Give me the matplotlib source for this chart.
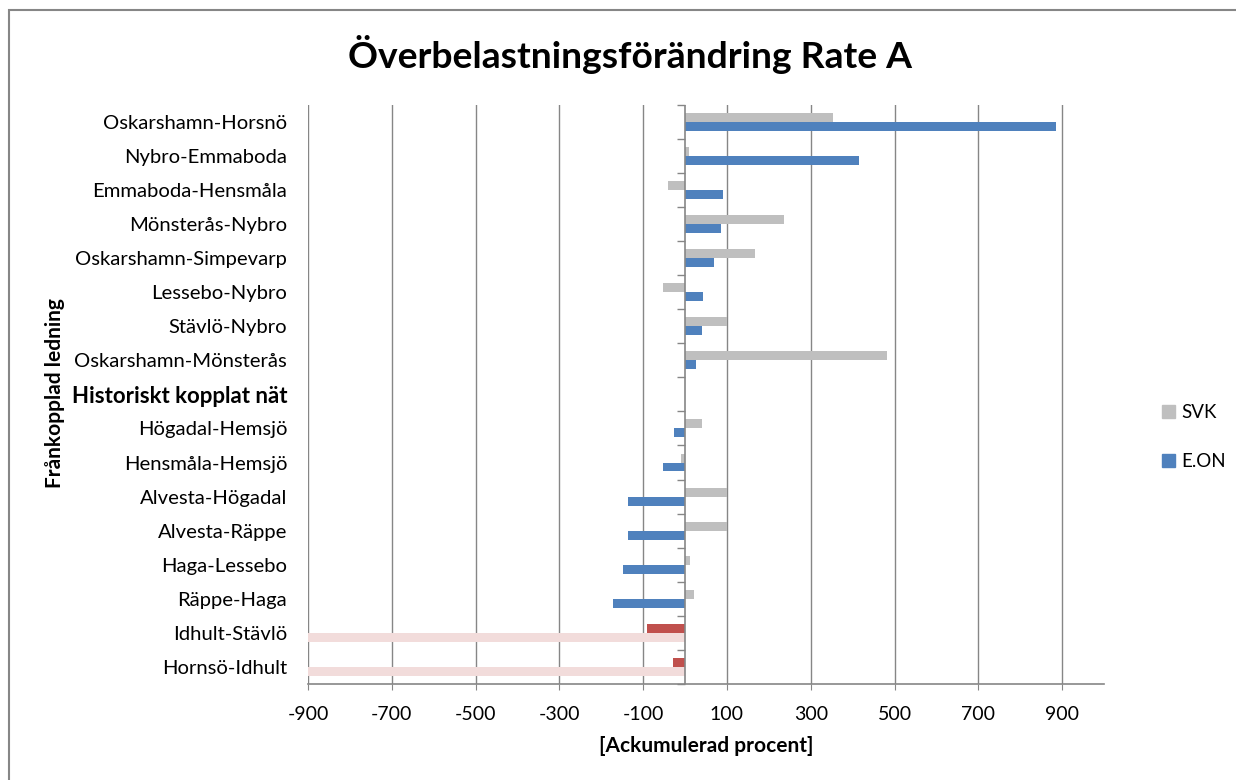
import numpy as np
import matplotlib.pyplot as plt
from matplotlib.patches import Rectangle, Patch

plt.rcParams['font.family'] = ['Lato', 'DejaVu Sans']

ledningar = [
    "Oskarshamn-Horsnö", "Nybro-Emmaboda", "Emmaboda-Hensmåla", "Mönsterås-Nybro",
    "Oskarshamn-Simpevarp", "Lessebo-Nybro", "Stävlö-Nybro", "Oskarshamn-Mönsterås",
    "Historiskt kopplat nät", "Högadal-Hemsjö", "Hensmåla-Hemsjö", "Alvesta-Högadal",
    "Alvesta-Räppe", "Haga-Lessebo", "Räppe-Haga", "Idhult-Stävlö", "Hornsö-Idhult",
]
svk = [354, 9, -40, 235, 168, -53, 100, 482, 0, 40, -9, 100, 100, 12, 22, -91, -29]
eon = [886, 415, 91, 86, 69, 42, 40, 26, 0, -26, -53, -137, -137, -148, -173, -900, -900]

historiskt = "Historiskt kopplat nät"
markerade = ["Idhult-Stävlö", "Hornsö-Idhult"]

grid_c = "#868686"
svk_c = ["#C0504D" if n in markerade else "#BFBFBF" for n in ledningar]
eon_c = ["#F2DCDB" if n in markerade else "#4F81BD" for n in ledningar]

fig = plt.figure(figsize=(12.36, 7.8), dpi=100)
ax = fig.add_axes([308 / 1236, 1 - 684 / 780, 796 / 1236, 579.3 / 780])

y = np.arange(len(ledningar))
h = 0.264
ax.barh(y - h / 2, svk, height=h, color=svk_c, zorder=3)
ax.barh(y + h / 2, eon, height=h, color=eon_c, zorder=3)

ax.set_xlim(-900, 1000)
ax.set_ylim(len(ledningar) - 0.5, -0.5)

ticks = np.arange(-900, 901, 200)
ax.set_xticks(ticks)
ax.set_xticklabels([str(t) for t in ticks], fontsize=14)
for t in ticks:
    ax.axvline(t, color=grid_c, lw=1, zorder=1)
ax.axvline(0, color=grid_c, lw=1.2, zorder=4)

ax.set_yticks(y)
ax.set_yticklabels(ledningar, fontsize=14.6)
for lab in ax.get_yticklabels():
    if lab.get_text() == historiskt:
        lab.set_fontweight('bold')
        lab.set_fontsize(16)
ax.tick_params(axis='y', length=0, pad=15)
ax.tick_params(axis='x', direction='out', length=4, color=grid_c, pad=12)

for s in ['top', 'right', 'left']:
    ax.spines[s].set_visible(False)
ax.spines['bottom'].set_color(grid_c)
ax.spines['bottom'].set_linewidth(1.2)

# small category ticks on the zero line
sec = ax.secondary_yaxis(900 / 1900)
sec.set_yticks(np.arange(len(ledningar) + 1) - 0.5)
sec.set_yticklabels([])
sec.tick_params(direction='out', length=6, color=grid_c, width=1)
sec.spines['left'].set_visible(False)

ax.set_xlabel("[Ackumulerad procent]", fontsize=15, fontweight='bold', labelpad=9)
fig.text(55 / 1236, 1 - 393 / 780, "Frånkopplad ledning", rotation=90,
         ha='center', va='center', fontsize=15, fontweight='bold')
fig.text(630 / 1236, 1 - 55 / 780, "Överbelastningsförändring Rate A",
         ha='center', va='center', fontsize=26.8, fontweight='bold')

handles = [Patch(color="#BFBFBF", label="SVK"), Patch(color="#4F81BD", label="E.ON")]
fig.legend(handles=handles, loc='center left', bbox_to_anchor=(1162 / 1236, 1 - 437 / 780),
           frameon=False, fontsize=13.5, handlelength=0.7, handleheight=0.7,
           handletextpad=0.35, labelspacing=1.7, borderpad=0, borderaxespad=0)

fig.patches.append(Rectangle((8.5 / 1236, -0.05), 1.1, 1.05 - 10.5 / 780,
                             transform=fig.transFigure, fill=False,
                             edgecolor=grid_c, lw=1.5))

fig.savefig("out.png", dpi=100)
